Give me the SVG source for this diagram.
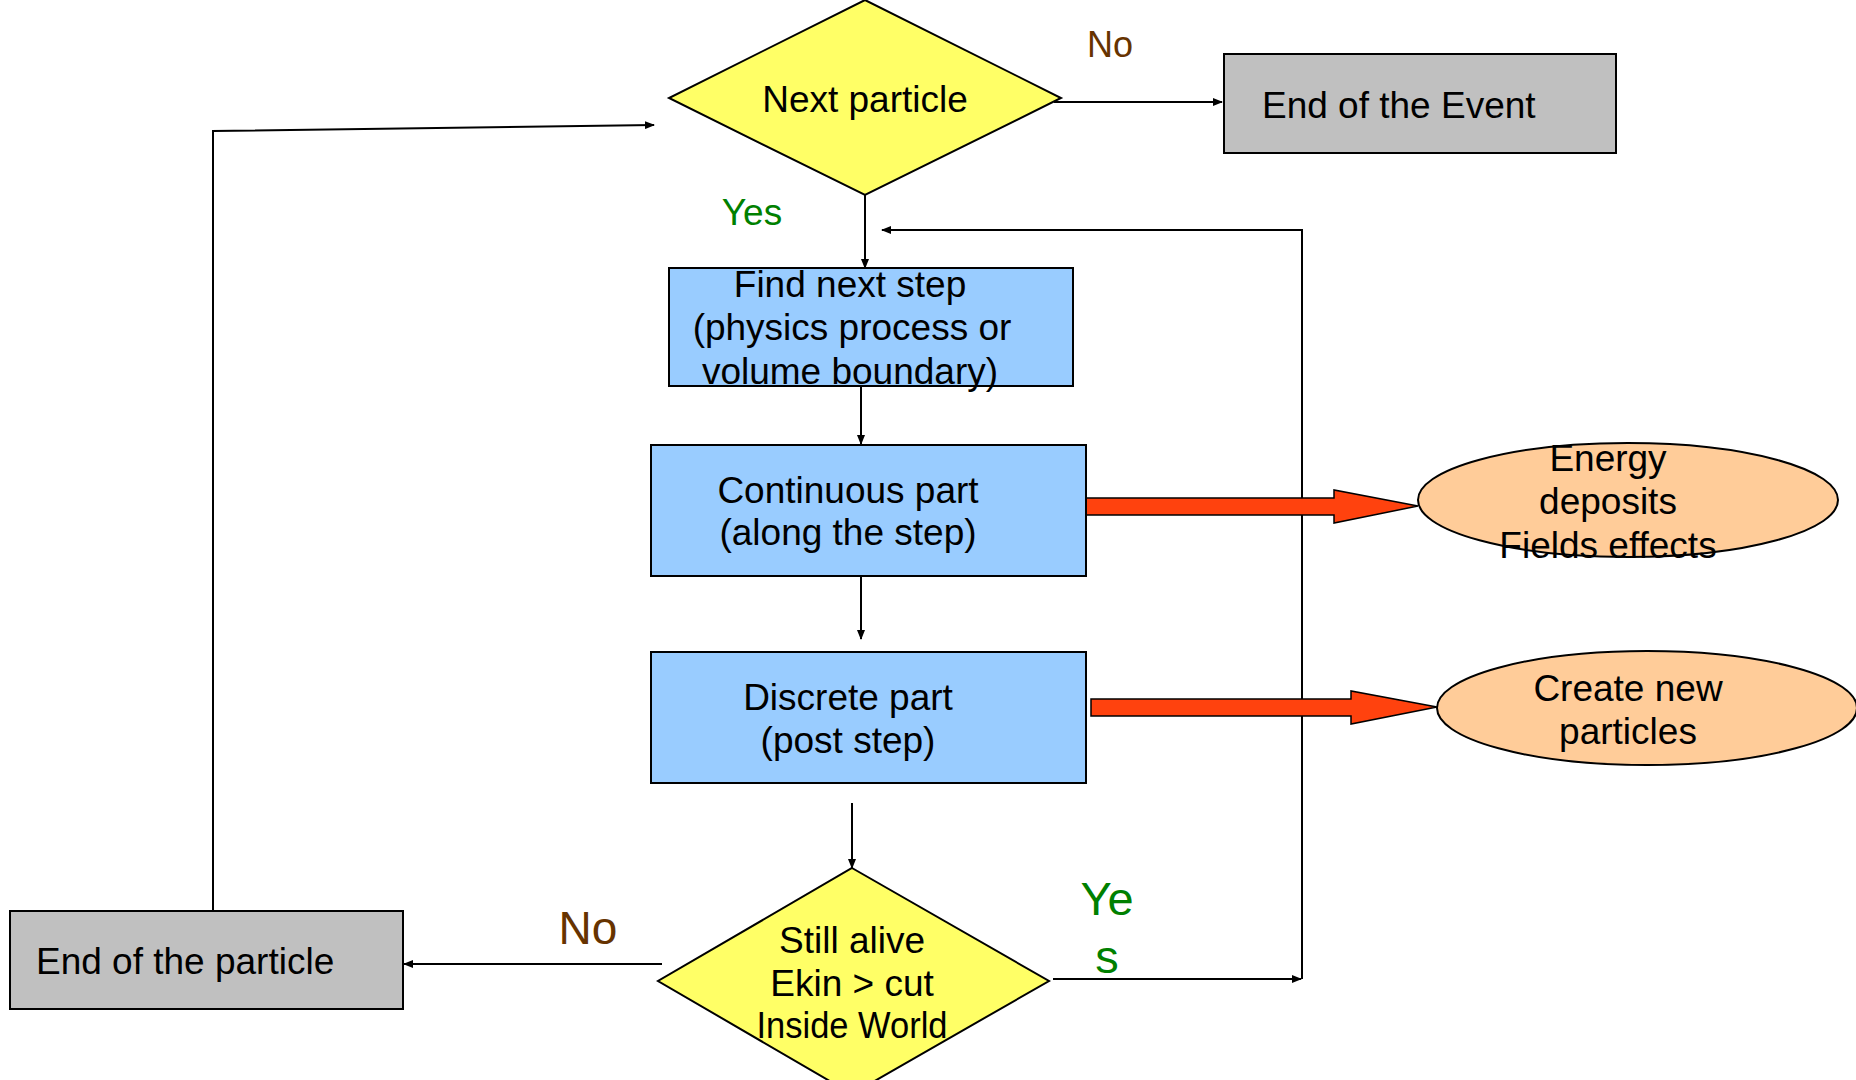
<svg xmlns="http://www.w3.org/2000/svg" width="1856" height="1080" viewBox="0 0 1856 1080">
<defs>
<marker id="ah" markerWidth="10" markerHeight="8" refX="9" refY="4" orient="auto" markerUnits="userSpaceOnUse">
<path d="M0,0 L10,4 L0,8 Z" fill="#000"/>
</marker>
<style>
text{font-family:"Liberation Sans",Arial,sans-serif;font-size:37px;fill:#000;text-anchor:middle}
.dec{fill:#ffff66;stroke:#000;stroke-width:2}
.proc{fill:#99ccff;stroke:#000;stroke-width:2}
.end{fill:#c0c0c0;stroke:#000;stroke-width:2}
.out{fill:#ffcc99;stroke:#000;stroke-width:2}
.con{fill:none;stroke:#000;stroke-width:2}
.big{fill:#ff420e;stroke:#000;stroke-width:1.5}
.no{fill:#663300}
.yes{fill:#008000}
</style>
</defs>
<rect width="1856" height="1080" fill="#fff"/>
<g id="connectors">
<line class="con" x1="1054" y1="102" x2="1222" y2="102" marker-end="url(#ah)"/>
<line class="con" x1="865" y1="195" x2="865" y2="268" marker-end="url(#ah)"/>
<polyline class="con" points="1302,979 1302,230 882,230" marker-end="url(#ah)"/>
<line class="con" x1="861" y1="386" x2="861" y2="444" marker-end="url(#ah)"/>
<line class="con" x1="861" y1="576" x2="861" y2="639" marker-end="url(#ah)"/>
<line class="con" x1="852" y1="803" x2="852" y2="868" marker-end="url(#ah)"/>
<line class="con" x1="1053" y1="979" x2="1301" y2="979" marker-end="url(#ah)"/>
<line class="con" x1="662" y1="964" x2="404" y2="964" marker-end="url(#ah)"/>
<polyline class="con" points="213,917 213,131 654,125" marker-end="url(#ah)"/>
<path class="big" d="M1086,498 L1334,498 L1334,490 L1418,506 L1334,523 L1334,515 L1086,515 Z"/>
<path class="big" d="M1091,699 L1351,699 L1351,691 L1437,707 L1351,724 L1351,716 L1091,716 Z"/>
<text class="no" x="1110" y="57" style="font-size:36px">No</text>
<text class="yes" x="752" y="225">Yes</text>
<text class="no" x="588" y="944" style="font-size:46px">No</text>
<text class="yes" x="1107" y="915" style="font-size:47px">Ye</text>
<text class="yes" x="1107" y="973" style="font-size:47px">s</text>
</g>
<g id="next-particle">
<polygon class="dec" points="865,0 1061,98 865,195 669,98"/>
<text x="865" y="112">Next particle</text>
</g>
<g id="end-event">
<rect class="end" x="1224" y="54" width="392" height="99"/>
<text x="1262" y="118" style="text-anchor:start">End of the Event</text>
</g>
<g id="find-next-step">
<rect class="proc" x="669" y="268" width="404" height="118"/>
<text x="850" y="297">Find next step</text>
<text x="852" y="340">(physics process or</text>
<text x="850" y="384">volume boundary)</text>
</g>
<g id="continuous">
<rect class="proc" x="651" y="445" width="435" height="131"/>
<text x="848" y="503">Continuous part</text>
<text x="848" y="545">(along the step)</text>
</g>
<g id="discrete">
<rect class="proc" x="651" y="652" width="435" height="131"/>
<text x="848" y="710">Discrete part</text>
<text x="848" y="753">(post step)</text>
</g>
<g id="energy">
<ellipse class="out" cx="1628" cy="500" rx="210" ry="57"/>
<text x="1608" y="471">Energy</text>
<text x="1608" y="514">deposits</text>
<text x="1608" y="558">Fields effects</text>
</g>
<g id="create">
<ellipse class="out" cx="1647" cy="708" rx="210" ry="57"/>
<text x="1628" y="701">Create new</text>
<text x="1628" y="744">particles</text>
</g>
<g id="still-alive">
<polygon class="dec" points="852,868 1049,981 852,1094 658,981"/>
<text x="852" y="953">Still alive</text>
<text x="852" y="996">Ekin &gt; cut</text>
<text x="852" y="1038" textLength="191" lengthAdjust="spacingAndGlyphs">Inside World</text>
</g>
<g id="end-particle">
<rect class="end" x="10" y="911" width="393" height="98"/>
<text x="36" y="974" style="text-anchor:start">End of the particle</text>
</g>
</svg>
